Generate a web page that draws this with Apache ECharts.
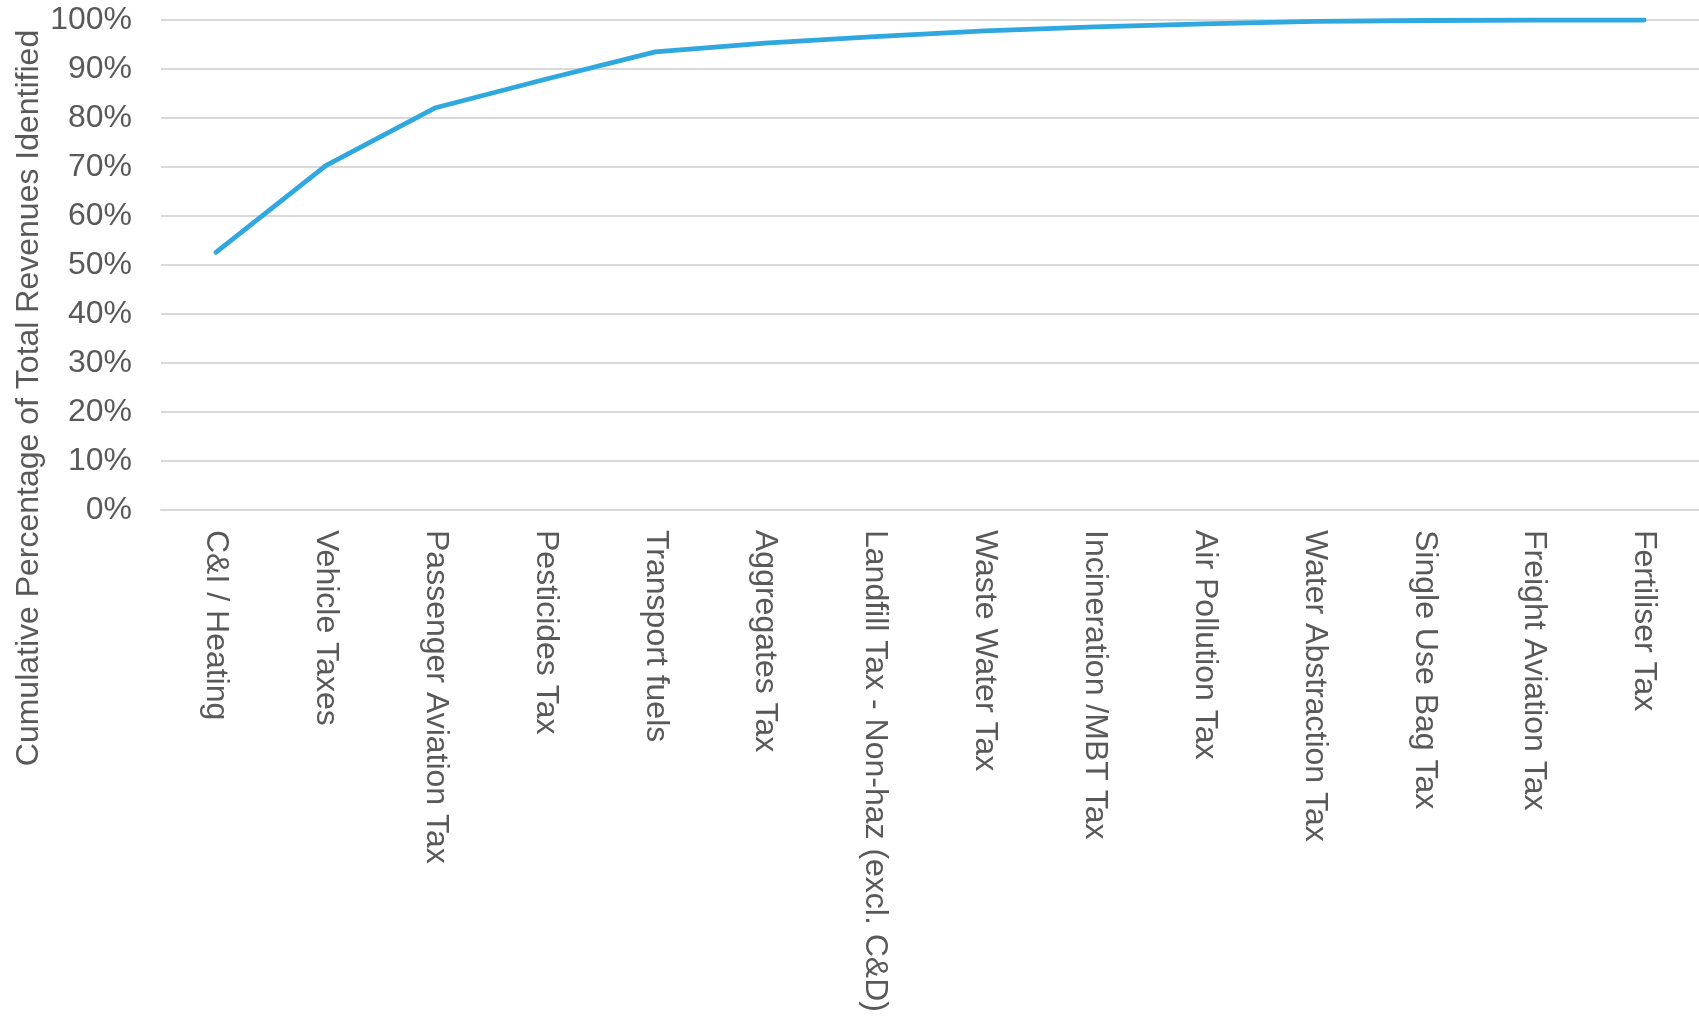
<!DOCTYPE html>
<html>
<head>
<meta charset="utf-8">
<script src="https://cdn.jsdelivr.net/npm/echarts@6/dist/echarts.min.js"></script>
<style>
html,body{margin:0;padding:0;background:#fff;}
#chart{width:1699px;height:1018px;}
</style>
</head>
<body>
<div id="chart"></div>
<script>
const categories = ["C&I / Heating","Vehicle Taxes","Passenger Aviation Tax","Pesticides Tax","Transport fuels","Aggregates Tax","Landfill Tax - Non-haz (excl. C&D)","Waste Water Tax","Incineration /MBT Tax","Air Pollution Tax","Water Abstraction Tax","Single Use Bag Tax","Freight Aviation Tax","Fertiliser Tax"];
const cumulativePct = [52.6, 70.3, 82.1, 87.9, 93.5, 95.3, 96.6, 97.8, 98.6, 99.2, 99.7, 99.9, 100, 100];
const yAxisTitle = "Cumulative Percentage of Total Revenues Identified";

const FONT = '"Liberation Sans", Arial, sans-serif';
const chart = echarts.init(document.getElementById('chart'));
chart.setOption({
  backgroundColor: '#ffffff',
  animation: false,
  grid: { left: 161, top: 20, bottom: 508, width: 1553 },
  xAxis: {
    type: 'category',
    data: categories,
    boundaryGap: true,
    axisLine: { show: true, lineStyle: { color: '#d9d9d9', width: 2 } },
    axisTick: { show: false },
    axisLabel: { rotate: -90, margin: 20, color: '#595959', fontSize: 32, fontFamily: FONT, interval: 0 }
  },
  yAxis: {
    type: 'value',
    min: 0, max: 100, interval: 10,
    axisLine: { show: false },
    axisTick: { show: false },
    splitLine: { lineStyle: { color: '#d9d9d9', width: 2 } },
    axisLabel: { formatter: '{value}%', color: '#595959', fontSize: 32, fontFamily: FONT, margin: 29 }
  },
  graphic: [{
    type: 'text',
    x: 29, y: 398,
    rotation: Math.PI / 2,
    style: { text: yAxisTitle, fill: '#595959', font: '32px ' + FONT, align: 'center', verticalAlign: 'middle' }
  }],
  series: [{
    type: 'line',
    data: cumulativePct,
    symbol: 'none',
    smooth: false,
    lineStyle: { color: '#2ea8df', width: 4.8, cap: 'round', join: 'round' }
  }]
});
</script>
</body>
</html>
